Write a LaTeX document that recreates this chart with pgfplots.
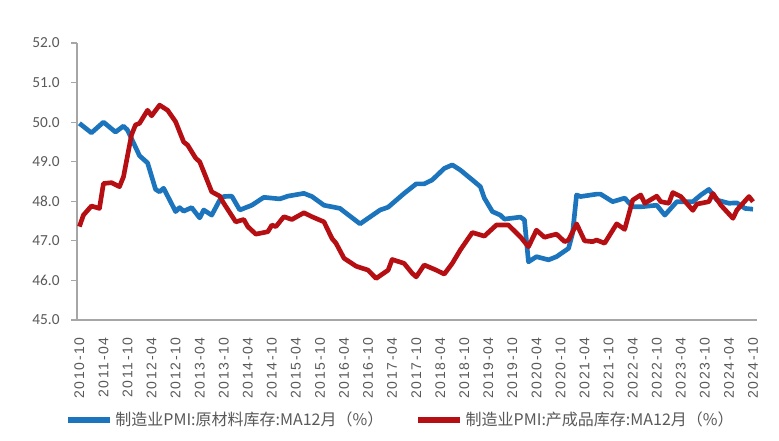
\documentclass[border=0pt]{standalone}
\usepackage{pgfplots}
\pgfplotsset{compat=1.18}
\usepackage{fontspec}
\setmainfont{Carlito}
\newfontfamily\cjk{Noto Sans CJK SC}
\newfontfamily\tickfont[LetterSpace=12]{Liberation Sans}
\definecolor{cblue}{HTML}{1C75BC}
\definecolor{cred}{HTML}{B50F14}
\definecolor{axgray}{HTML}{A6A6A6}
\definecolor{txtgray}{HTML}{595959}
\begin{document}
\begin{tikzpicture}
\begin{axis}[
  scale only axis,
  width=510pt, height=207.75pt,
  xmin=-0.6, xmax=169,
  ymin=45, ymax=52,
  ytick={45,46,...,52},
  /pgf/number format/fixed, /pgf/number format/fixed zerofill, /pgf/number format/precision=1, /pgf/number format/assume math mode=true,
  yticklabel style={font=\fontsize{11.5}{13}\selectfont, text=txtgray, xshift=-5pt},
  xtick={0,6,...,168},
  xticklabels={2010-10,2011-04,2011-10,2012-04,2012-10,2013-04,2013-10,2014-04,2014-10,2015-04,2015-10,2016-04,2016-10,2017-04,2017-10,2018-04,2018-10,2019-04,2019-10,2020-04,2020-10,2021-04,2021-10,2022-04,2022-10,2023-04,2023-10,2024-04,2024-10},
  xticklabel style={rotate=90, anchor=east, font=\tickfont\fontsize{10.5}{12}\selectfont, text=txtgray},
  xticklabel shift=5pt,
  axis x line*=bottom, axis y line*=left,
  axis line style={axgray, line width=0.9pt, -},
  xtick style={draw=none},
  ytick style={axgray, line width=0.9pt},
  tick align=outside, major tick length=4.5pt,
  legend style={at={(0.476,-0.361)}, anchor=center, draw=none, legend columns=2,
    font=\fontsize{12}{14}\selectfont, text=txtgray,
    /tikz/every even column/.append style={column sep=22pt}},
  legend image code/.code={\draw[#1, line width=4.5pt] (0cm,0cm) -- (1.1cm,0cm);},
  every axis plot/.append style={line width=3.5pt, line join=round},
]
\addplot[cblue, no markers] coordinates {
(0,49.97)(3,49.73)(6,50.00)(9,49.75)(11,49.90)(12,49.80)(15,49.15)(17,48.97)(19,48.30)(20,48.24)(21,48.33)
(24,47.74)(25,47.84)(26,47.75)(28,47.84)(30,47.58)(31,47.78)(33,47.65)(35,48.03)(36,48.12)(38,48.13)
(40,47.78)(43,47.90)(46,48.10)(50,48.06)(52,48.13)(56,48.20)(58,48.12)(61,47.90)(65,47.82)(66,47.74)
(70,47.43)(72,47.57)(75,47.78)(77,47.85)(81,48.20)(84,48.44)(86,48.44)(88,48.54)(91,48.83)(93,48.92)
(95,48.79)(98,48.54)(100,48.37)(101,48.08)(103,47.74)(105,47.65)(106,47.55)(110,47.60)(111,47.53)
(112,46.47)(114,46.60)(117,46.52)(119,46.60)(122,46.81)(123,47.19)(124,48.16)(125,48.12)(129,48.18)
(130,48.18)(133,47.99)(136,48.08)(138,47.86)(140,47.86)(144,47.90)(146,47.65)(149,47.99)(153,47.99)
(155,48.16)(157,48.30)(159,48.03)(162,47.95)(164,47.96)(166,47.82)(168,47.80)
};
\addlegendentry{{\cjk 制造业PMI:原材料库存:MA12月（\%）}}
\addplot[cred, no markers] coordinates {
(0,47.36)(1,47.65)(3,47.88)(5,47.82)(6,48.45)(8,48.47)(10,48.37)(11,48.62)(13,49.68)(14,49.93)(15,49.97)
(17,50.30)(18,50.16)(20,50.43)(22,50.30)(24,50.01)(26,49.50)(27,49.42)(29,49.09)(30,49.00)(31,48.75)
(33,48.24)(35,48.13)(36,47.95)(39,47.48)(41,47.54)(42,47.36)(44,47.17)(47,47.23)(48,47.40)(49,47.36)
(51,47.61)(53,47.54)(56,47.71)(58,47.61)(61,47.48)(63,47.06)(64,46.94)(66,46.56)(69,46.36)(72,46.26)
(74,46.05)(77,46.26)(78,46.53)(81,46.43)(83,46.18)(84,46.09)(86,46.39)(89,46.26)(91,46.16)(93,46.43)
(95,46.77)(98,47.21)(101,47.12)(104,47.40)(107,47.40)(110,47.10)(112,46.85)(114,47.27)(116,47.09)
(117,47.12)(119,47.17)(121,46.98)(122,47.02)(124,47.43)(126,47.00)(128,46.98)(129,47.02)(131,46.94)
(134,47.43)(136,47.29)(138,48.03)(140,48.16)(141,47.95)(144,48.13)(145,47.99)(147,47.95)(148,48.22)
(150,48.12)(153,47.77)(154,47.93)(157,47.99)(158,48.20)(160,47.90)(163,47.57)(164,47.78)(167,48.12)(168,47.99)
};
\addlegendentry{{\cjk 制造业PMI:产成品库存:MA12月（\%）}}
\end{axis}
\path[use as bounding box] ([shift={(-57.75pt,-90.75pt)}]current axis.south west) rectangle ([shift={(16.5pt,32.25pt)}]current axis.north east);
\end{tikzpicture}
\end{document}
